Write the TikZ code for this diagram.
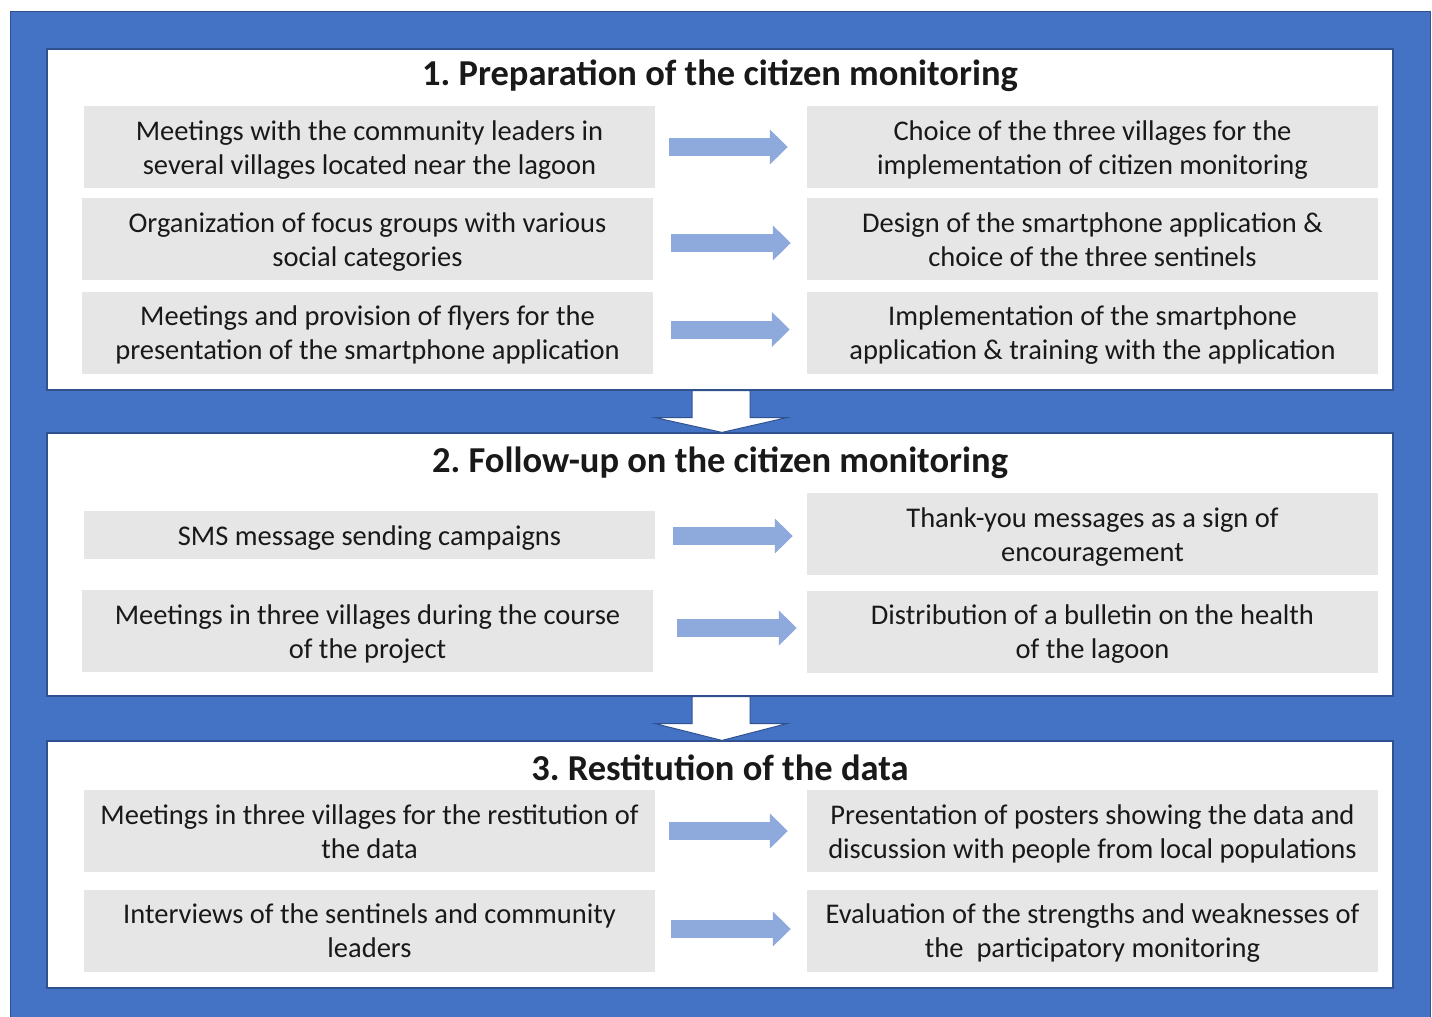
\documentclass[tikz,border=0pt]{standalone}
\usepackage{fontspec}
\setmainfont{Carlito}
\usetikzlibrary{arrows.meta,calc}
\definecolor{bgblue}{RGB}{68,114,196}
\definecolor{edgeblue}{RGB}{47,82,143}
\definecolor{arrblue}{RGB}{142,169,219}
\definecolor{boxgray}{RGB}{230,230,230}
\frenchspacing
\newcommand{\lstrut}{\rule[-7pt]{0pt}{34pt}}
\begin{document}
\begin{tikzpicture}[x=1pt,y=-1pt,
  panel/.style={draw=edgeblue,line width=1.2pt,fill=white,minimum width=1346pt,inner sep=0pt},
  gbox/.style={fill=boxgray,minimum width=571pt,minimum height=82pt,align=center,inner sep=0pt,font=\fontsize{28.5}{34}\selectfont,text=black!90},
  ptitle/.style={font=\fontsize{36.5}{40}\selectfont\bfseries,inner sep=0pt,text=black!90,anchor=base},
  barrow/.style={draw=arrblue,line width=18pt,-{Triangle[length=18pt 0 0,width=34pt 0 0]}},
  darrow/.style={draw=edgeblue,line width=1pt,fill=white,line join=miter}]
\useasboundingbox (0,0) rectangle (1432,1017);
\fill[bgblue,draw=edgeblue,line width=1pt] (10,11) rectangle (1430,1030);
% panels
\node[panel,minimum height=341pt] (p1) at (720,219.5) {};
\node[panel,minimum height=263pt] (p2) at (720,564.5) {};
\node[panel,minimum height=247pt] (p3) at (720,864.5) {};
% titles
\node[ptitle] (t1) at (720,85) {1. Preparation of the citizen monitoring};
\node[ptitle] (t2) at (720,472) {2. Follow-up on the citizen monitoring};
\node[ptitle] (t3) at (720,780) {3. Restitution of the data};
% panel 1
\node[gbox] (a1) at (369.5,147) {\lstrut Meetings with the community leaders in\\\lstrut several villages located near the lagoon};
\node[gbox] (b1) at (1092.5,147) {\lstrut Choice of the three villages for the\\\lstrut implementation of citizen monitoring};
\node[gbox] (a2) at (367.5,239) {\lstrut Organization of focus groups with various\\\lstrut social categories};
\node[gbox] (b2) at (1092.5,239) {\lstrut Design of the smartphone application \&\\\lstrut choice of the three sentinels};
\node[gbox] (a3) at (367.5,332.5) {\lstrut Meetings and provision of flyers for the\\\lstrut presentation of the smartphone application};
\node[gbox] (b3) at (1092.5,332.5) {\lstrut Implementation of the smartphone\\\lstrut application \& training with the application};
% panel 2
\node[gbox,minimum height=48pt] (c1) at (369.5,535) {\lstrut SMS message sending campaigns};
\node[gbox] (d1) at (1092.5,534) {\lstrut Thank-you messages as a sign of\\\lstrut encouragement};
\node[gbox] (c2) at (367.5,631) {\lstrut Meetings in three villages during the course\\\lstrut of the project};
\node[gbox] (d2) at (1092.5,631.5) {\lstrut Distribution of a bulletin on the health\\\lstrut of the lagoon};
% panel 3
\node[gbox] (e1) at (369.5,831) {\lstrut Meetings in three villages for the restitution of\\\lstrut the data};
\node[gbox] (f1) at (1092.5,831) {\lstrut Presentation of posters showing the data and\\\lstrut discussion with people from local populations};
\node[gbox] (e2) at (369.5,930.5) {\lstrut Interviews of the sentinels and community\\\lstrut leaders};
\node[gbox] (f2) at (1092.5,930.5) {\lstrut Evaluation of the strengths and weaknesses of\\\lstrut the~ participatory monitoring};
% right arrows
\draw[barrow] ([xshift=14pt]a1.east) -- ([xshift=-19pt]b1.west);
\draw[barrow] ([xshift=18pt,yshift=-4pt]a2.east) -- ([xshift=-16pt,yshift=-4pt]b2.west);
\draw[barrow] ([xshift=18pt,yshift=3pt]a3.east) -- ([xshift=-17pt,yshift=3pt]b3.west);
\draw[barrow] ([xshift=18pt,yshift=-1pt]c1.east) -- ([xshift=-14pt,yshift=-2pt]d1.west);
\draw[barrow] ([xshift=24pt,yshift=3pt]c2.east) -- ([xshift=-10pt,yshift=3.5pt]d2.west);
\draw[barrow] ([xshift=14pt]e1.east) -- ([xshift=-19pt]f1.west);
\draw[barrow] ([xshift=16pt,yshift=1.5pt]e2.east) -- ([xshift=-16pt,yshift=1.5pt]f2.west);
% down arrows
\draw[darrow] ([xshift=-28pt]p1.south) -- ([xshift=30pt]p1.south) -- ([xshift=30pt,yshift=-27pt]p1.south) -- ([xshift=67pt,yshift=-27pt]p1.south) -- ([xshift=2pt]p2.north) -- ([xshift=-65pt,yshift=-27pt]p1.south) -- ([xshift=-28pt,yshift=-27pt]p1.south) -- cycle;
\draw[darrow] ([xshift=-28pt]p2.south) -- ([xshift=30pt]p2.south) -- ([xshift=30pt,yshift=-27pt]p2.south) -- ([xshift=67pt,yshift=-27pt]p2.south) -- ([xshift=2pt]p3.north) -- ([xshift=-65pt,yshift=-27pt]p2.south) -- ([xshift=-28pt,yshift=-27pt]p2.south) -- cycle;
\end{tikzpicture}
\end{document}
